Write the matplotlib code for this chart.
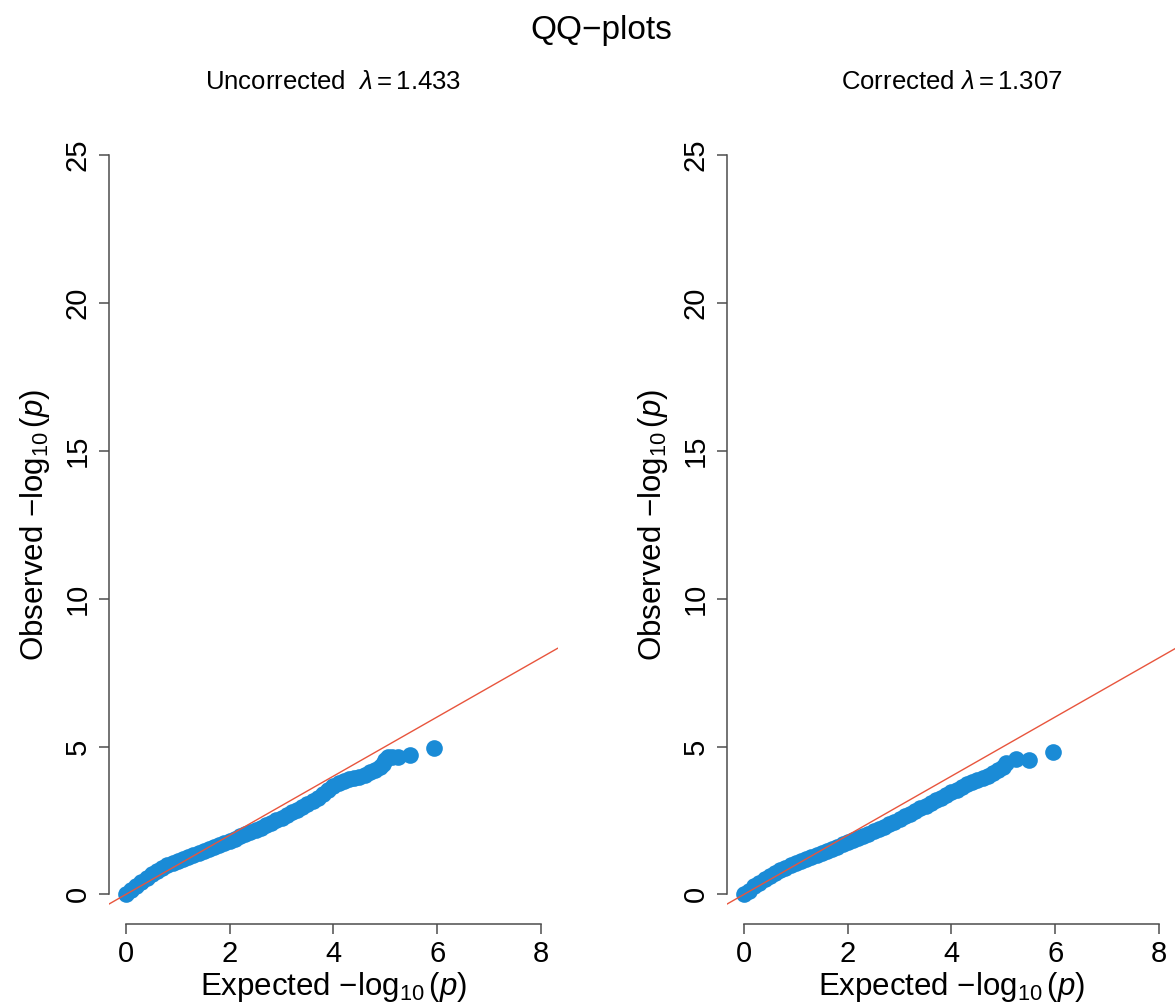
import matplotlib
matplotlib.use("Agg")
import matplotlib.pyplot as plt

plt.rcParams["font.family"] = ["Liberation Sans", "DejaVu Sans"]
plt.rcParams["mathtext.fontset"] = "custom"
plt.rcParams["mathtext.rm"] = "Liberation Sans"
plt.rcParams["mathtext.it"] = "Liberation Sans:italic"
plt.rcParams["mathtext.sf"] = "Liberation Sans"

# expected / observed -log10(p)
uncorr_expected = [0.0, 0.1, 0.2, 0.3, 0.4, 0.5, 0.6, 0.7, 0.8, 0.9,
                   1.0, 1.1, 1.2, 1.3, 1.4, 1.5, 1.6, 1.7, 1.8, 1.9,
                   2.0, 2.1, 2.2, 2.3, 2.4, 2.5, 2.6, 2.7, 2.8, 2.9,
                   3.0, 3.1, 3.2, 3.3, 3.4, 3.5, 3.6, 3.7, 3.8, 3.9,
                   4.0, 4.1, 4.2, 4.3, 4.4, 4.5, 4.6, 4.7, 4.8, 4.9,
                   4.95, 5.0, 5.05, 5.12, 5.25, 5.48, 5.94]
uncorr_observed = [0.00, 0.14, 0.29, 0.43, 0.56, 0.68, 0.79, 0.89, 0.98, 1.06,
                   1.13, 1.20, 1.27, 1.34, 1.41, 1.48, 1.55, 1.62, 1.68, 1.75,
                   1.82, 1.89, 1.96, 2.03, 2.10, 2.18, 2.26, 2.34, 2.42, 2.51,
                   2.60, 2.69, 2.78, 2.87, 2.96, 3.06, 3.16, 3.27, 3.39, 3.52,
                   3.66, 3.78, 3.85, 3.89, 3.92, 3.98, 4.05, 4.13, 4.20, 4.30,
                   4.42, 4.53, 4.64, 4.66, 4.63, 4.71, 4.95]

corr_expected = [0.0, 0.1, 0.2, 0.3, 0.4, 0.5, 0.6, 0.7, 0.8, 0.9,
                 1.0, 1.1, 1.2, 1.3, 1.4, 1.5, 1.6, 1.7, 1.8, 1.9,
                 2.0, 2.1, 2.2, 2.3, 2.4, 2.5, 2.6, 2.7, 2.8, 2.9,
                 3.0, 3.1, 3.2, 3.3, 3.4, 3.5, 3.6, 3.7, 3.8, 3.9,
                 4.0, 4.1, 4.2, 4.3, 4.4, 4.5, 4.6, 4.7, 4.8, 4.9,
                 5.0, 5.05, 5.25, 5.49, 5.95]
corr_observed = [0.00, 0.13, 0.27, 0.40, 0.52, 0.63, 0.73, 0.82, 0.91, 0.99,
                 1.06, 1.13, 1.20, 1.27, 1.34, 1.41, 1.48, 1.55, 1.62, 1.69,
                 1.77, 1.84, 1.91, 1.98, 2.05, 2.13, 2.21, 2.29, 2.37, 2.46,
                 2.55, 2.64, 2.73, 2.82, 2.91, 3.00, 3.09, 3.18, 3.27, 3.36,
                 3.45, 3.54, 3.63, 3.72, 3.80, 3.86, 3.93, 4.02, 4.11, 4.20,
                 4.32, 4.43, 4.57, 4.55, 4.83]

panel_titles = [r"Uncorrected  $\lambda = 1.433$", r"Corrected $\lambda = 1.307$"]
x_ticks = [0, 2, 4, 6, 8]
y_ticks = [0, 5, 10, 15, 20, 25]
null_intercept, null_slope = 0, 1

point_color = "#1A8BD6"
line_color = "#E8553D"
axis_color = "#4D4D4D"

fig = plt.figure(figsize=(11.75, 10.05), dpi=100)
ax_left = fig.add_axes([0.0930, 0.0806, 0.3815, 0.7946])
ax_right = fig.add_axes([0.6190, 0.0806, 0.3815, 0.7946])

panels = [
    (ax_left, uncorr_expected, uncorr_observed, panel_titles[0]),
    (ax_right, corr_expected, corr_observed, panel_titles[1]),
]

for ax, exp_vals, obs_vals, title in panels:
    ax.plot(exp_vals, obs_vals, "o", color=point_color, markersize=12,
            markeredgewidth=0, zorder=2)
    ax.axline((0, null_intercept), slope=null_slope, color=line_color,
              linewidth=1.0, zorder=3)

    # R-style limits: data range padded by 4%
    ax.set_xlim(-0.32, 8.32)
    ax.set_ylim(-1, 26)
    ax.set_xticks(x_ticks)
    ax.set_yticks(y_ticks)

    for side in ["top", "right"]:
        ax.spines[side].set_visible(False)
    ax.spines["left"].set_bounds(y_ticks[0], y_ticks[-1])
    ax.spines["bottom"].set_bounds(x_ticks[0], x_ticks[-1])
    for side in ["left", "bottom"]:
        ax.spines[side].set_color(axis_color)
        ax.spines[side].set_linewidth(1.1)

    ax.tick_params(axis="both", length=7, width=1.1, color=axis_color,
                   labelsize=21)
    ax.tick_params(axis="x", pad=4.5)
    ax.tick_params(axis="y", pad=5.5, labelrotation=90)
    for lab in ax.get_yticklabels():
        lab.set_verticalalignment("center")

    ax.set_xlabel(r"Expected $-\log_{10}(\mathit{p})$", fontsize=22.5)
    ax.set_ylabel(r"Observed $-\log_{10}(\mathit{p})$", fontsize=22.5)
    ax.xaxis.label.set_verticalalignment("center")
    ax.yaxis.label.set_verticalalignment("center")
    ax.xaxis.set_label_coords(0.5, -0.079)
    ax.yaxis.set_label_coords(-0.166, 0.5)
    ax.set_title(title, fontsize=18.5, pad=26)

fig.text(0.512, 0.970, "QQ\u2212plots", ha="center", va="center", fontsize=24)

fig.savefig("out.png", dpi=100)
